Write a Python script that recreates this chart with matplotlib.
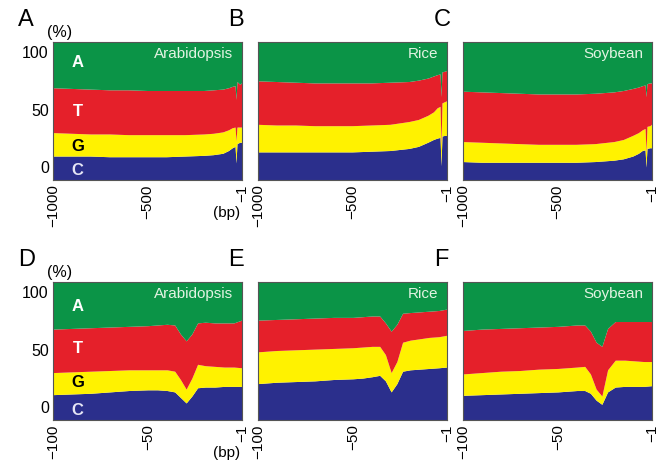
import matplotlib
matplotlib.use("Agg")
import matplotlib.pyplot as plt

plt.rcParams['font.family'] = ['Liberation Sans', 'DejaVu Sans']

# colours for the four bases, stacked bottom -> top
bases = ['C', 'G', 'T', 'A']
base_colors = ['#2b2f8c', '#fff200', '#e5202a', '#0b9447']

# upstream region -1000..-1 bp (top row)
pos_long = [-1000, -900, -800, -700, -600, -500, -400, -300, -200, -150, -100, -70, -50, -35, -30, -25, -10, -1]

arab_long_C = [17, 17, 17, 16.5, 16.5, 16.5, 16.5, 17, 17.5, 18, 19, 21, 23, 24, 12, 26, 27, 27]
arab_long_G = [17, 16.5, 16, 16.5, 16, 16, 16, 15.5, 15.5, 15.5, 15.5, 15, 14.5, 14, 16, 12, 11, 11]
arab_long_T = [32.5, 32.5, 32.5, 32, 32.5, 32, 32, 32, 31.5, 31.5, 31, 30.5, 30, 30, 30, 33, 31, 32]
arab_long_A = [33.5, 34, 34.5, 35, 35, 35.5, 35.5, 35.5, 35.5, 35, 34.5, 33.5, 32.5, 32, 42, 29, 31, 30]

rice_long_C = [20, 20, 20, 20, 20, 20, 20.5, 21, 22.5, 24, 27, 29, 30, 30.5, 10, 31.5, 32, 32]
rice_long_G = [20, 19.5, 19.5, 19, 19, 19, 19, 19, 19.5, 19.5, 19.5, 20, 22, 22.5, 15, 24, 24.5, 25]
rice_long_T = [31.5, 31.5, 31, 31, 31, 31, 30.5, 30.5, 29, 28.5, 27, 26, 24, 23.5, 35, 22.5, 22, 22]
rice_long_A = [28.5, 29, 29.5, 30, 30, 30, 30, 29.5, 29, 28, 26.5, 25, 24, 23.5, 40, 22, 21.5, 21]

soy_long_C = [13, 12.5, 12.5, 12.5, 12.5, 12.5, 12.5, 13, 14, 15, 17, 19, 21, 21.5, 9, 22.5, 23, 23]
soy_long_G = [14.5, 14.5, 14, 13.5, 13, 13, 13, 13, 13.5, 14, 15, 15, 15, 15.5, 11, 16, 16, 17]
soy_long_T = [36.5, 36.5, 36.5, 36.5, 36.5, 36.5, 36.5, 36.5, 36, 35.5, 34, 33, 32, 31.5, 40, 31, 31, 30]
soy_long_A = [36, 36.5, 37, 37.5, 38, 38, 38, 37.5, 36.5, 35.5, 34, 33, 32, 31.5, 40, 30.5, 30, 30]

# upstream region -100..-1 bp (bottom row)
pos_short = [-100, -90, -80, -70, -60, -50, -45, -40, -36, -33, -30, -27, -24, -20, -15, -10, -5, -1]

arab_short_C = [18, 18.5, 19, 20, 21, 21.5, 21.5, 21, 20, 16, 12, 17, 23, 23.5, 23.5, 24, 24, 24]
arab_short_G = [16, 16, 16, 15.5, 15, 14.5, 14.5, 15, 15, 13, 10, 13, 17, 15.5, 15, 14, 14, 13.5]
arab_short_T = [31.5, 31.5, 31.5, 31.5, 31.5, 32, 32.5, 33, 33.5, 33, 35, 32, 30, 31.5, 31.5, 32, 32, 34.5]
arab_short_A = [34.5, 34, 33.5, 33, 32.5, 32, 31.5, 31, 31.5, 38, 43, 38, 30, 29.5, 30, 30, 30, 28]

rice_short_C = [26, 27, 27.5, 28, 29, 29.5, 30, 31, 32, 28, 20, 26, 35, 36, 36.5, 37, 37.5, 38]
rice_short_G = [23, 23, 23, 23, 22.5, 22.5, 22.5, 22, 21, 19, 14, 16, 21, 21.5, 22, 22.5, 22.5, 23]
rice_short_T = [23, 22.5, 22.5, 22.5, 22.5, 22, 22, 22, 22, 23, 30, 27, 21, 20, 19.5, 19, 19, 19]
rice_short_A = [28, 27.5, 27, 26.5, 26, 26, 25.5, 25, 25, 30, 36, 31, 23, 22.5, 22, 21.5, 21, 20]

soy_short_C = [17.5, 18, 18.5, 19, 19.5, 20, 20.5, 21, 21, 19, 14, 11, 20, 23.5, 24, 24, 24, 24.5]
soy_short_G = [15.5, 16, 16.5, 16.5, 17, 17, 17, 17, 17.5, 14, 8, 6, 16, 19.5, 19, 18.5, 18, 17.5]
soy_short_T = [31.5, 31.5, 31, 31, 30.5, 30.5, 30.5, 30.5, 30, 31, 34, 36, 30, 28, 28, 28.5, 29, 29]
soy_short_A = [35.5, 34.5, 34, 33.5, 33, 32.5, 32, 31.5, 31.5, 36, 44, 47, 34, 29, 29, 29, 29, 29]

species = ['Arabidopsis', 'Rice', 'Soybean']
panel_letters = ['A', 'B', 'C', 'D', 'E', 'F']
ytick_pos = [9.5, 51, 92.5]
ytick_labels = ['0', '50', '100']
xtick_long = [-1000, -500, -1]
xtick_short = [-100, -50, -1]

rows = [
    (pos_long, xtick_long, [
        [arab_long_C, arab_long_G, arab_long_T, arab_long_A],
        [rice_long_C, rice_long_G, rice_long_T, rice_long_A],
        [soy_long_C, soy_long_G, soy_long_T, soy_long_A]]),
    (pos_short, xtick_short, [
        [arab_short_C, arab_short_G, arab_short_T, arab_short_A],
        [rice_short_C, rice_short_G, rice_short_T, rice_short_A],
        [soy_short_C, soy_short_G, soy_short_T, soy_short_A]]),
]

W, H = 662, 467
fig = plt.figure(figsize=(W / 100, H / 100), dpi=100)

col_left = [53, 258, 463]
col_w = 189
row_top = [42, 282]
row_h = 138
letter_x = [18, 228, 434]

base_label_y = [[7, 24, 50, 85.5], [7, 27, 52, 82]]
base_label_col = ['#e6e6f5', 'black', 'white', 'white']

for r, (pos, xt, data) in enumerate(rows):
    for c in range(3):
        ax = fig.add_axes([col_left[c] / W, 1 - (row_top[r] + row_h) / H, col_w / W, row_h / H])
        ax.stackplot(pos, *data[c], colors=base_colors, linewidth=0)
        ax.set_xlim(pos[0], pos[-1])
        ax.set_ylim(0, 100)
        ax.set_xticks(xt)
        ax.set_xticklabels([str(v).replace('-', '\u2212') for v in xt], rotation=90, va='top', fontsize=11)
        ax.tick_params(length=0, pad=3)
        if c == 0:
            ax.set_yticks(ytick_pos)
            ax.set_yticklabels(ytick_labels, fontsize=11.5)
            ax.tick_params(axis='y', pad=3)
            for b, lab in enumerate(bases):
                ax.text(0.13, base_label_y[r][b], lab, transform=ax.get_yaxis_transform(),
                        color=base_label_col[b], fontsize=12, fontweight='bold',
                        ha='center', va='center')
            fig.text(47 / W, 1 - (row_top[r] - 10) / H, '(%)', fontsize=11.5, va='center', ha='left')
            fig.text(240 / W, 1 - (row_top[r] + 171) / H, '(bp)', fontsize=11, va='center', ha='right')
        else:
            ax.set_yticks([])
        ax.text(0.955, 0.91, species[c], transform=ax.transAxes, color='#e2f3e2',
                fontsize=11, ha='right', va='center')
        for s in ax.spines.values():
            s.set_color('#555555')
            s.set_linewidth(0.8)
        fig.text(letter_x[c] / W, 1 - (row_top[r] - 22) / H, panel_letters[r * 3 + c],
                 fontsize=17, ha='left', va='center')

fig.savefig('out.png', dpi=100)
